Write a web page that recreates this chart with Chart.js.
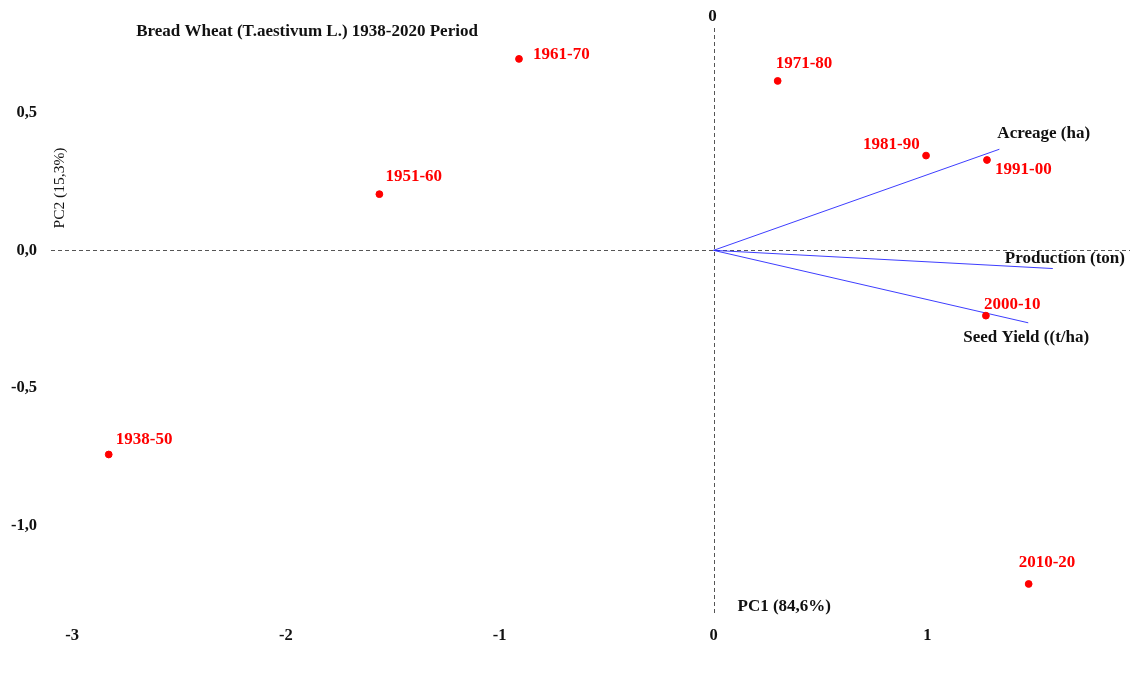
<!DOCTYPE html>
<html lang="en">
<head>
    <meta charset="UTF-8">
    <title>Bread Wheat PCA Biplot</title>
    <script src="https://cdn.jsdelivr.net/npm/chart.js"></script>
    <style>
        html, body {margin:0; padding:0; background:#fff; overflow:hidden;}
        #wrap {width:1130px; height:680px; position:relative;}
    </style>
</head>
<body>
    <div id="wrap"><canvas id="biplot"></canvas></div>
    <script>
    // periods (scores)
    const periods = ['1938-50', '1951-60', '1961-70', '1971-80', '1981-90', '1991-00', '2000-10', '2010-20'];
    const pc1Scores = [-2.829, -1.563, -0.910, 0.300, 0.994, 1.279, 1.274, 1.474];
    const pc2Scores = [-0.741, 0.204, 0.695, 0.615, 0.344, 0.328, -0.237, -1.211];
    // label offsets in px (dx from point to text left, dy to text middle)
    const periodLabelDx = [7, 6, 14, -2, -63, 8, -2, -10];
    const periodLabelDy = [-15, -18, -4, -17, -11, 10, -11, -21];

    // variable loadings (arrows)
    const variables = ['Acreage (ha)', 'Production (ton)', 'Seed Yield ((t/ha)'];
    const pc1Loadings = [1.337, 1.587, 1.472];
    const pc2Loadings = [0.367, -0.066, -0.263];
    const varLabelDx = [-2, -48, -65];
    const varLabelDy = [-16, -10, 15];

    const xTicks = [-3, -2, -1, 0, 1];
    const yTicks = [-1.0, -0.5, 0.0, 0.5];

    const serif = '"Liberation Serif", "Times New Roman", serif';
    const serifBold = 'bold 17px ' + serif;

    const datasets = [{
        label: 'Periods',
        data: periods.map((p, i) => ({x: pc1Scores[i], y: pc2Scores[i]})),
        backgroundColor: '#ff0000',
        borderColor: '#ff0000',
        pointRadius: 3.4,
        showLine: false
    }];
    variables.forEach((v, i) => {
        datasets.push({
            label: v,
            data: [{x: 0, y: 0}, {x: pc1Loadings[i], y: pc2Loadings[i]}],
            borderColor: 'rgba(40,40,255,0.9)',
            borderWidth: 1,
            pointRadius: 0,
            showLine: true
        });
    });

    const overlay = {
        id: 'overlay',
        beforeDatasetsDraw(chart) {
            const {ctx, scales: {x, y}, chartArea} = chart;
            const x0 = x.getPixelForValue(0), y0 = y.getPixelForValue(0);
            ctx.save();
            ctx.strokeStyle = '#555';
            ctx.lineWidth = 1;
            ctx.setLineDash([4, 3]);
            ctx.beginPath();
            ctx.moveTo(chartArea.left, Math.round(y0) + 0.5);
            ctx.lineTo(chartArea.right, Math.round(y0) + 0.5);
            ctx.moveTo(Math.round(x0) + 0.5, 28);
            ctx.lineTo(Math.round(x0) + 0.5, chartArea.bottom);
            ctx.stroke();
            ctx.restore();
        },
        afterDatasetsDraw(chart) {
            const {ctx, scales: {x, y}, chartArea} = chart;
            ctx.save();
            ctx.font = serifBold;
            ctx.textBaseline = 'middle';
            ctx.textAlign = 'left';
            ctx.fillStyle = '#ff0000';
            periods.forEach((p, i) => {
                const px = x.getPixelForValue(pc1Scores[i]);
                const py = y.getPixelForValue(pc2Scores[i]);
                ctx.fillText(p, px + periodLabelDx[i], py + periodLabelDy[i]);
            });
            ctx.fillStyle = '#111';
            variables.forEach((v, i) => {
                const px = x.getPixelForValue(pc1Loadings[i]);
                const py = y.getPixelForValue(pc2Loadings[i]);
                ctx.fillText(v, px + varLabelDx[i], py + varLabelDy[i]);
            });
            // title, zero marker and axis names
            ctx.textAlign = 'center';
            ctx.fillText('Bread Wheat (T.aestivum L.) 1938-2020 Period', 307, 32);
            ctx.fillText('0', x.getPixelForValue(0) - 1, 17);
            ctx.textAlign = 'left';
            ctx.fillText('PC1 (84,6%)', x.getPixelForValue(0) + 24, 607);
            ctx.translate(60, 188);
            ctx.rotate(-Math.PI / 2);
            ctx.textAlign = 'center';
            ctx.font = '15.5px ' + serif;
            ctx.fillText('PC2 (15,3%)', 0, 0);
            ctx.restore();
        }
    };

    new Chart(document.getElementById('biplot'), {
        type: 'scatter',
        data: {datasets: datasets},
        options: {
            responsive: true,
            maintainAspectRatio: false,
            animation: false,
            layout: {autoPadding: false, padding: {top: 10, right: 0, left: 0, bottom: 0}},
            plugins: {legend: {display: false}, tooltip: {enabled: false}},
            scales: {
                x: {
                    type: 'linear', min: -3.099, max: 1.948,
                    grid: {display: false, drawTicks: false},
                    border: {display: false},
                    afterBuildTicks: s => { s.ticks = xTicks.map(v => ({value: v})); },
                    afterFit: s => { s.height = 66; },
                    ticks: {
                        padding: 12, color: '#111',
                        font: {family: serif, size: 16.5, weight: 'bold'},
                        callback: v => String(v)
                    }
                },
                y: {
                    type: 'linear', min: -1.32, max: 0.822,
                    grid: {display: false, drawTicks: false},
                    border: {display: false},
                    afterBuildTicks: s => { s.ticks = yTicks.map(v => ({value: v})); },
                    afterFit: s => { s.width = 51; },
                    ticks: {
                        padding: 14, color: '#111',
                        font: {family: serif, size: 16.5, weight: 'bold'},
                        callback: v => v.toFixed(1).replace('.', ',')
                    }
                }
            }
        },
        plugins: [overlay]
    });
    </script>
</body>
</html>
